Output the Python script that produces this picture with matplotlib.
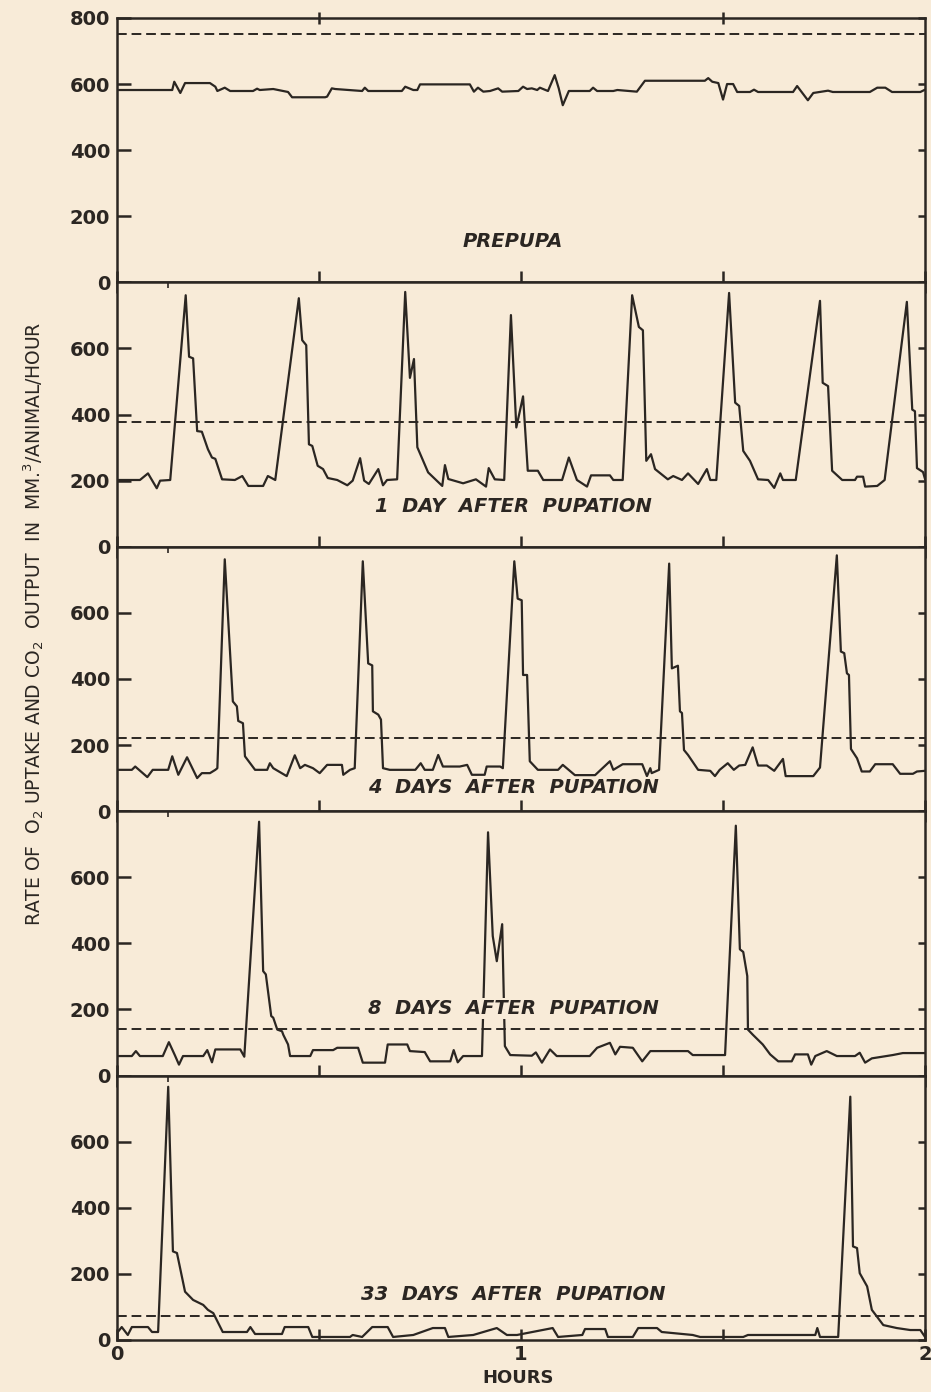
import matplotlib
matplotlib.use("Agg")
import matplotlib.pyplot as plt
import numpy as np

plt.rcParams['font.family'] = ['DejaVu Sans']
plt.rcParams['mathtext.default'] = 'regular'

INK = '#2b2622'
PAPER = '#f8ebd8'

# traces: time in minutes, rate in mm3/animal/hour
prepupa_t = [0, 8.2, 8.5, 9.4, 10.1, 13.8, 14.6, 14.9, 16.0, 16.8, 20.2, 20.8, 21.2, 23.2,
             25.4, 26.0, 30.9, 31.2, 31.9, 32.4, 36.4, 36.8, 37.3, 42.3, 42.8, 44.0, 44.6,
             45.0, 52.4, 53.0, 53.6, 54.4, 55.4, 56.6, 57.2, 59.6, 60.3, 60.9, 61.6, 62.4,
             62.8, 64.0, 65.0, 65.6, 66.2, 67.1, 70.2, 70.7, 71.3, 73.7, 74.3, 77.2, 78.4,
             87.3, 87.8, 88.4, 89.3, 90.0, 90.6, 91.5, 92.1, 94.0, 94.6, 95.2, 100.4, 101.0,
             102.6, 103.4, 105.6, 106.3, 111.8, 112.9, 114.1, 115.1, 119.3, 120]
prepupa_v = [582, 582, 607, 573, 603, 603, 592, 579, 589, 579, 579, 586, 582, 585,
             576, 560, 560, 562, 587, 585, 579, 589, 579, 579, 592, 582, 582,
             599, 599, 577, 589, 577, 579, 587, 577, 579, 592, 585, 587, 582,
             589, 579, 627, 587, 536, 579, 579, 589, 579, 579, 582, 577, 610,
             610, 618, 607, 603, 553, 600, 600, 576, 576, 583, 576, 576, 594,
             551, 573, 580, 576, 576, 589, 589, 576, 576, 583]

day1_t = [0, 3.4, 4.6, 5.9, 6.4, 7.9, 10.2, 10.7, 11.3, 11.9, 12.6, 13.5, 14.1, 14.6, 15.6,
          17.5, 18.6, 19.5, 21.7, 22.4, 23.5, 27.0, 27.5, 28.1, 28.5, 29.0, 29.8, 30.6,
          31.3, 32.7, 34.2, 35.0, 36.1, 36.7, 37.4, 38.8, 39.5, 40.1, 41.6, 42.8, 43.5,
          44.1, 44.6, 46.2, 48.3, 48.7, 49.2, 51.4, 53.3, 54.8, 55.2, 56.1, 57.5, 58.5,
          59.3, 60.3, 61.0, 62.5, 63.3, 66.1, 67.1, 68.3, 69.8, 70.4, 73.2, 73.7, 75.1,
          76.5, 77.5, 78.1, 78.6, 79.3, 79.9, 81.8, 82.6, 83.9, 84.8, 86.3, 87.6, 88.1,
          89.0, 90.9, 91.8, 92.4, 93.0, 94.0, 95.2, 96.7, 97.6, 98.5, 98.9, 100.8, 104.4,
          104.8, 105.6, 106.2, 107.7, 109.6, 109.9, 110.8, 111.1, 112.9, 114.0, 117.3,
          118.1, 118.5, 118.8, 119.7, 120]
day1_v = [202, 202, 222, 177, 200, 202, 761, 575, 570, 350, 348, 295, 270, 266, 204,
          202, 214, 184, 184, 214, 202, 752, 625, 610, 310, 305, 245, 235,
          208, 202, 186, 200, 268, 200, 190, 235, 186, 202, 204, 771, 511,
          568, 301, 225, 184, 247, 205, 192, 204, 182, 238, 204, 202, 701,
          361, 455, 230, 230, 202, 202, 270, 202, 182, 216, 216, 202, 202,
          761, 665, 655, 260, 280, 235, 204, 214, 202, 222, 190, 235, 202,
          202, 768, 436, 426, 290, 260, 204, 202, 178, 222, 202, 202, 744,
          496, 486, 230, 202, 202, 212, 212, 182, 184, 202, 741,
          415, 410, 238, 226, 205]

day4_t = [0, 2.2, 2.7, 4.5, 5.3, 7.6, 8.2, 9.1, 10.4, 11.9, 12.6, 13.8, 14.6, 14.9, 16.0,
          17.2, 17.8, 18.0, 18.7, 19.0, 20.5, 22.3, 22.7, 23.2, 25.2, 26.4, 27.2, 27.9,
          29.1, 30.1, 31.2, 33.4, 33.6, 34.6, 35.3, 36.5, 37.3, 37.9, 38.0, 38.8, 39.2,
          39.5, 40.5, 44.3, 45.1, 45.7, 46.9, 47.7, 48.4, 50.9, 52.0, 52.7, 54.6, 54.9,
          56.9, 57.3, 59.0, 59.5, 60.1, 60.3, 60.9, 61.3, 62.5, 65.5, 66.2, 68.0, 71.0,
          73.2, 73.7, 75.1, 78.0, 78.7, 79.2, 79.4, 80.5, 82.0, 82.4, 83.3, 83.6, 83.9,
          84.2, 84.8, 86.3, 88.1, 88.8, 89.5, 90.7, 91.6, 92.4, 93.3, 94.4, 95.2, 96.5,
          97.6, 98.9, 99.3, 103.4, 104.4, 106.9, 107.5, 108.0, 108.4, 108.7, 109.0,
          109.9, 110.6, 111.8, 112.6, 115.2, 116.3, 118.2, 118.8, 120]
day4_v = [125, 125, 135, 103, 125, 125, 166, 110, 163, 100, 115, 115, 125, 130, 762,
          332, 317, 273, 266, 166, 125, 125, 145, 130, 106, 169, 130, 140,
          130, 115, 140, 140, 110, 125, 130, 756, 447, 441, 302, 292, 277,
          130, 125, 125, 145, 125, 125, 170, 135, 135, 140, 110, 110, 135,
          135, 130, 756, 643, 638, 412, 412, 151, 125, 125, 140, 109, 109,
          151, 125, 142, 142, 106, 130, 115, 125, 749, 432, 440, 302, 297,
          185, 170, 125, 122, 106, 125, 145, 125, 138, 140, 193, 138, 138,
          122, 158, 106, 106, 132, 774, 483, 478, 417, 412, 188,
          160, 120, 120, 142, 142, 113, 113, 120, 122]

day8_t = [0, 2.2, 2.8, 3.4, 6.8, 7.7, 8.6, 9.2, 9.8, 12.8, 13.4, 14.1, 14.6, 18.3, 18.9,
          21.1, 21.7, 22.1, 22.9, 23.2, 23.8, 24.5, 24.7, 25.4, 25.7, 28.7, 29.1, 32.1,
          32.7, 35.8, 36.5, 39.8, 40.2, 43.1, 43.5, 45.7, 46.5, 49.5, 50.0, 50.6, 51.4,
          54.2, 55.1, 55.8, 56.4, 57.2, 57.6, 58.4, 61.6, 62.2, 63.1, 64.3, 65.3, 70.2,
          71.3, 73.2, 74.0, 74.7, 76.6, 78.0, 79.2, 84.8, 85.5, 90.3, 91.9, 92.5, 93.0,
          93.6, 93.7, 94.4, 95.9, 97.0, 98.2, 100.2, 100.7, 102.6, 103.1, 103.7, 105.4,
          106.9, 109.6, 110.3, 111.1, 112.1, 115.2, 116.7, 120]
day8_v = [59, 59, 74, 59, 59, 101, 61, 33, 59, 59, 77, 40, 79, 79, 57,
          768, 316, 306, 180, 175, 139, 134, 123, 94, 59, 59, 77, 77,
          84, 84, 39, 39, 94, 94, 74, 71, 43, 43, 77, 40, 59,
          59, 736, 422, 346, 458, 89, 62, 60, 70, 39, 79, 59, 59,
          84, 99, 64, 87, 84, 43, 74, 74, 62, 62, 756, 382, 374,
          301, 139, 124, 94, 64, 43, 43, 64, 64, 33, 59, 74,
          59, 59, 69, 39, 52, 62, 68, 68]

day33_t = [0, 0.7, 1.6, 2.2, 4.6, 5.2, 6.1, 7.6, 8.3, 8.9, 10.1, 11.3, 12.8, 13.5, 14.3,
           15.7, 19.3, 19.8, 20.5, 24.5, 24.9, 28.4, 29.0, 34.6, 35.0, 36.4, 37.9, 40.2,
           41.0, 44.0, 46.9, 48.7, 49.2, 52.9, 56.4, 57.9, 59.4, 64.7, 65.5, 69.1, 69.5,
           72.5, 72.9, 76.6, 77.4, 80.2, 80.9, 85.5, 86.6, 93.0, 93.7, 103.7, 104.0, 104.4,
           107.1, 108.9, 109.3, 109.9, 110.3, 111.4, 112.1, 113.8, 115.8, 117.8, 119.3, 120]
day33_v = [21, 39, 15, 39, 39, 24, 24, 766, 268, 263, 146, 121, 106, 91, 81,
           24, 24, 39, 18, 18, 39, 39, 9, 9, 15, 9, 39, 39,
           9, 15, 36, 36, 9, 15, 36, 15, 15, 36, 9, 15, 33,
           33, 9, 9, 36, 36, 24, 15, 9, 9, 15, 15, 36, 9,
           9, 736, 283, 278, 202, 162, 91, 45, 36, 30, 30, 9]

panel_times = [prepupa_t, day1_t, day4_t, day8_t, day33_t]
panel_rates = [prepupa_v, day1_v, day4_v, day8_v, day33_v]
panel_means = [750, 378, 222, 140, 71]
panel_names = ['PREPUPA', '1  DAY  AFTER  PUPATION', '4  DAYS  AFTER  PUPATION',
               '8  DAYS  AFTER  PUPATION', '33  DAYS  AFTER  PUPATION']
name_heights = [124, 123, 72, 204, 136]
# small timing marks hanging from the top edge of each panel (hours)
time_marks = [[], [0.173, 0.453, 1.275, 1.735], [0.267, 1.782], [0.351, 1.535], [0.126]]

fig = plt.figure(figsize=(9.31, 13.92), dpi=100, facecolor=PAPER)
axes = fig.subplots(5, 1, sharex=True)
fig.subplots_adjust(left=0.1257, right=0.9936, bottom=0.0374, top=0.9871, hspace=0)

for i, ax in enumerate(axes):
    ax.set_facecolor(PAPER)
    t = np.array(panel_times[i]) / 60.0
    ax.plot(t, panel_rates[i], color=INK, lw=1.6, zorder=2)
    ax.axhline(panel_means[i], color=INK, lw=1.4, dashes=(5, 2.5), zorder=2)
    ax.text(0.98, name_heights[i], panel_names[i], ha='center', va='center',
            fontsize=14, style='italic', weight='bold', color=INK, zorder=3,
            bbox=dict(boxstyle='square,pad=0.05', fc=PAPER, ec='none'))
    ax.set_xlim(0, 2)
    ax.set_ylim(0, 800)
    for s in ax.spines.values():
        s.set_linewidth(1.8)
        s.set_color(INK)
    if i == 0:
        ax.set_yticks([0, 200, 400, 600, 800])
    else:
        ax.set_yticks([0, 200, 400, 600])
    ax.tick_params(axis='y', left=True, right=True, direction='in', length=10,
                   width=1.8, color=INK, labelsize=14, labelcolor=INK, pad=5)
    for lab in ax.get_yticklabels():
        lab.set_fontweight('bold')

    if i < 4:
        ax.tick_params(axis='x', bottom=True, top=(i == 0), direction='inout', length=16,
                       width=1.8, color=INK, labelbottom=False)
    else:
        ax.tick_params(axis='x', bottom=True, direction='in', length=8, width=1.8,
                       color=INK, labelsize=14, labelcolor=INK, pad=4)
    if time_marks[i]:
        ax.set_xticks(time_marks[i], minor=True)
        ax.tick_params(axis='x', which='minor', bottom=False, top=True, direction='in',
                       length=4, width=1.2, color=INK)

# right-hand ticks are shorter than the left ones
for ax in axes:
    for tk in ax.yaxis.get_major_ticks():
        tk.tick2line.set_markersize(5)

axes[-1].set_xticks([0, 0.5, 1, 1.5, 2])
axes[-1].set_xticklabels(['0', '', '1', '', '2'], fontweight='bold')
for tk, loc in zip(axes[0].xaxis.get_major_ticks(), axes[0].get_xticks()):
    tk.tick2line.set_markersize(8)
    if loc in (0, 1, 2):
        tk.tick2line.set_visible(False)

fig.text(0.556, 0.010, 'HOURS', ha='center', va='center', fontsize=13,
         weight='bold', color=INK)
fig.text(0.036, 0.552, 'RATE OF  O$_2$ UPTAKE AND CO$_2$  OUTPUT  IN  MM.$^3$/ANIMAL/HOUR',
         rotation=90, ha='center', va='center', fontsize=13.5, color=INK)

fig.savefig('out.png', dpi=100, facecolor=PAPER)
